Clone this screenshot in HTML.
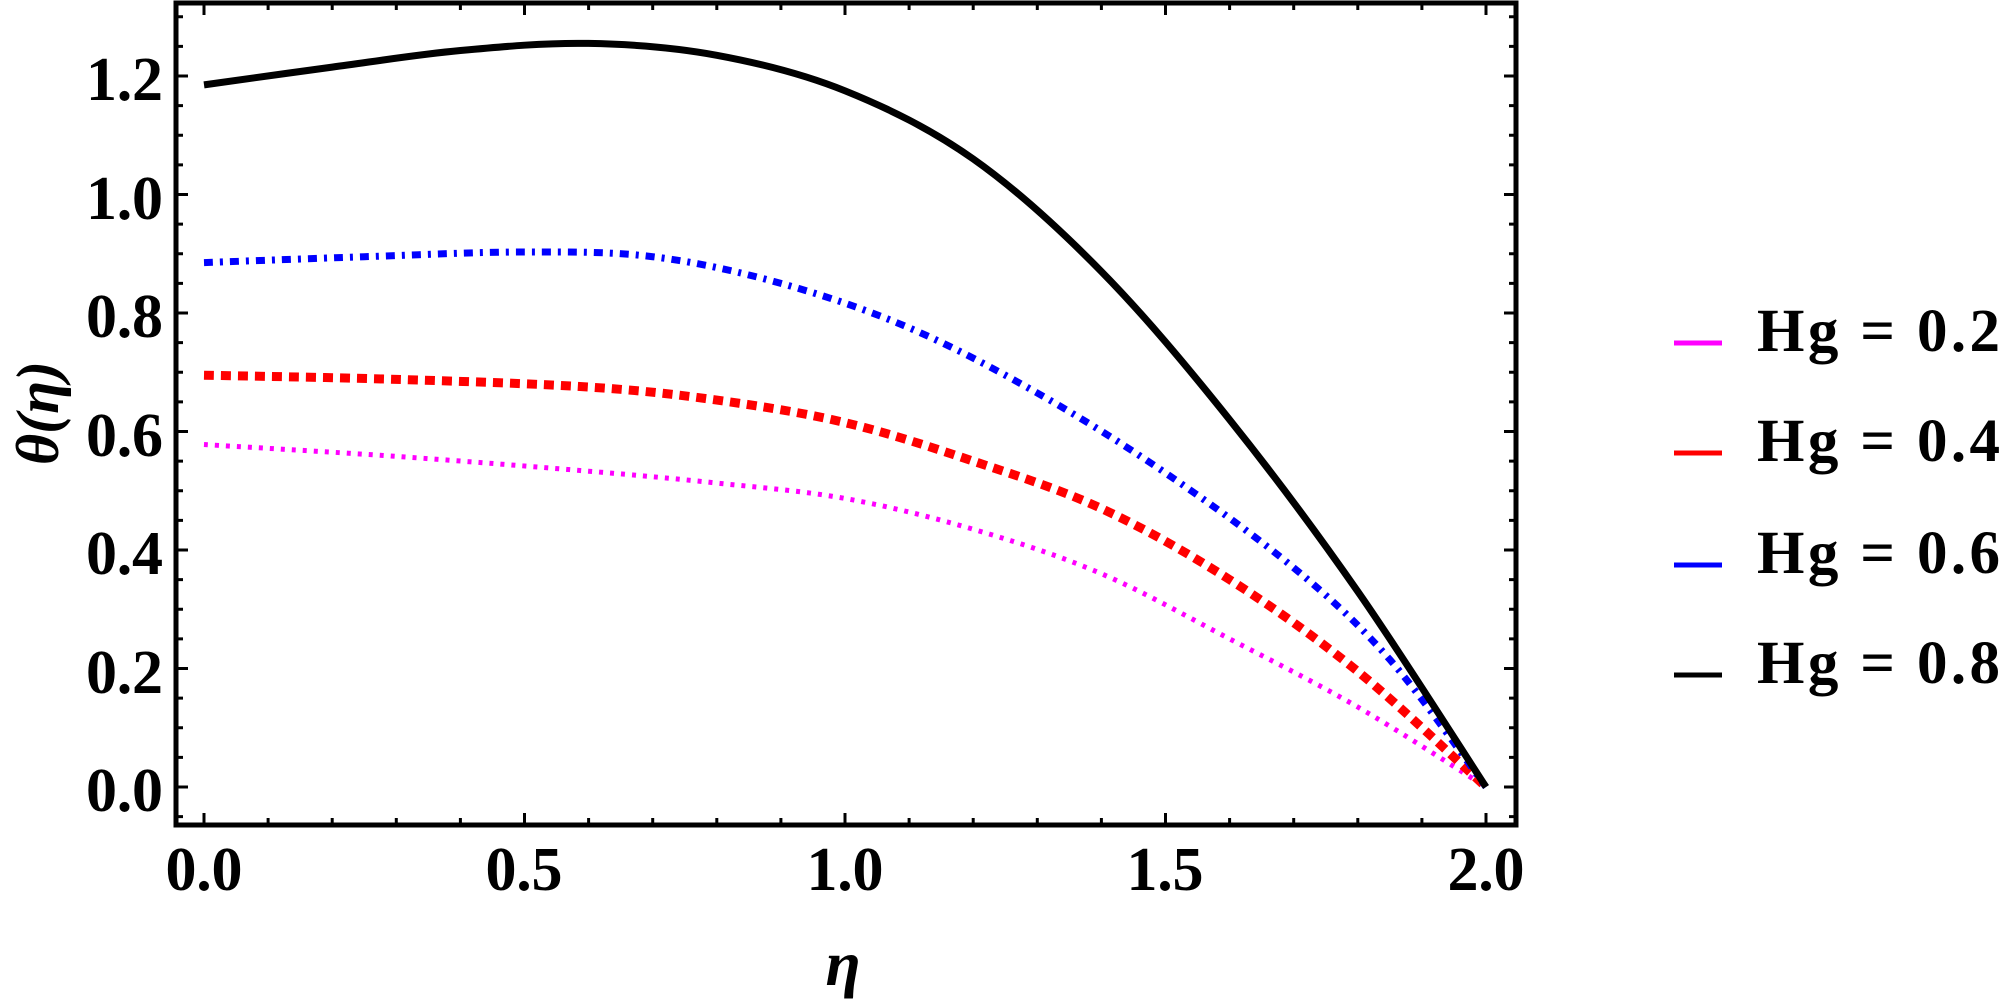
<!DOCTYPE html>
<html><head><meta charset="utf-8"><style>
html,body{margin:0;padding:0;background:#fff;}
svg{display:block;}
</style></head><body>
<svg id="s" width="2008" height="1007" viewBox="0 0 2008 1007" xmlns="http://www.w3.org/2000/svg">
<g id="curves"></g>
<rect x="176" y="3" width="1340" height="822" fill="none" stroke="#000" stroke-width="5"/>
<g id="ticks" stroke="#000" stroke-width="3"></g>
<g font-family="Liberation Serif, Times New Roman, serif" font-weight="bold" fill="#000">
<g font-size="62" text-anchor="end">
<text x="163" y="100" textLength="77">1.2</text>
<text x="163" y="219" textLength="77">1.0</text>
<text x="163" y="337" textLength="77">0.8</text>
<text x="163" y="456" textLength="77">0.6</text>
<text x="163" y="574" textLength="77">0.4</text>
<text x="163" y="693" textLength="77">0.2</text>
<text x="163" y="811" textLength="77">0.0</text>
</g>
<g font-size="62" text-anchor="middle">
<text x="204" y="890" textLength="77">0.0</text>
<text x="524" y="890" textLength="77">0.5</text>
<text x="845" y="890" textLength="77">1.0</text>
<text x="1165" y="890" textLength="77">1.5</text>
<text x="1486" y="890" textLength="77">2.0</text>
</g>
<text x="843" y="985" font-size="64" font-style="italic" text-anchor="middle">η</text>
<text transform="translate(58,413) rotate(-90)" font-size="60" font-style="italic" text-anchor="middle">θ(η)</text>
<g font-size="61">
<text x="1757" y="351" textLength="243">Hg = 0.2</text>
<text x="1757" y="461" textLength="243">Hg = 0.4</text>
<text x="1757" y="573" textLength="243">Hg = 0.6</text>
<text x="1757" y="683" textLength="243">Hg = 0.8</text>
</g>
</g>
<g stroke-width="5">
<line x1="1674" y1="343" x2="1722" y2="343" stroke="#ff00ff"/>
<line x1="1674" y1="453" x2="1722" y2="453" stroke="#ff0000"/>
<line x1="1674" y1="565" x2="1722" y2="565" stroke="#0000ff"/>
<line x1="1674" y1="675" x2="1722" y2="675" stroke="#000"/>
</g>
</svg>
<script>
var X=function(e){return 204+641*e}, Y=function(v){return 787-592.5*v};
var ns="http://www.w3.org/2000/svg";
function path(pts){
  var p=pts.map(function(a){return [X(a[0]),Y(a[1])]});
  var d="M"+p[0][0]+","+p[0][1];
  for(var i=0;i<p.length-1;i++){
    var p0=p[i-1]||p[i],p1=p[i],p2=p[i+1],p3=p[i+2]||p2;
    d+=" C"+(p1[0]+(p2[0]-p0[0])/6)+","+(p1[1]+(p2[1]-p0[1])/6)+" "+(p2[0]-(p3[0]-p1[0])/6)+","+(p2[1]-(p3[1]-p1[1])/6)+" "+p2[0]+","+p2[1];
  }
  return d;
}
var series=[
 {c:"#ff00ff",w:5,da:"4 7",pts:[[0,0.578],[0.3,0.558],[0.6,0.533],[0.8,0.513],[1.0,0.487],[1.2,0.435],[1.4,0.36],[1.6,0.25],[1.8,0.135],[2,0]]},
 {c:"#ff0000",w:9,da:"10 7",pts:[[0,0.695],[0.3,0.688],[0.6,0.675],[0.8,0.653],[1.0,0.615],[1.2,0.55],[1.4,0.47],[1.6,0.35],[1.8,0.195],[2,0]]},
 {c:"#0000ff",w:7,da:"9 7 3 7",pts:[[0,0.885],[0.25,0.895],[0.5,0.903],[0.7,0.895],[0.9,0.85],[1.1,0.775],[1.3,0.665],[1.5,0.53],[1.7,0.37],[1.85,0.215],[2,0]]},
 {c:"#000",w:7,da:"",pts:[[0,1.185],[0.2,1.215],[0.4,1.243],[0.6,1.255],[0.8,1.235],[1.0,1.175],[1.2,1.06],[1.4,0.87],[1.6,0.62],[1.8,0.33],[2,0]]}
];
var g=document.getElementById("curves");
series.forEach(function(s){
  var e=document.createElementNS(ns,"path");
  e.setAttribute("d",path(s.pts));e.setAttribute("fill","none");
  e.setAttribute("stroke",s.c);e.setAttribute("stroke-width",s.w);
  if(s.da)e.setAttribute("stroke-dasharray",s.da);
  g.appendChild(e);
});
var t=document.getElementById("ticks");
function ln(x1,y1,x2,y2){var e=document.createElementNS(ns,"line");e.setAttribute("x1",x1);e.setAttribute("y1",y1);e.setAttribute("x2",x2);e.setAttribute("y2",y2);t.appendChild(e);}
for(var i=0;i<=20;i++){var x=X(i/10),L=(i%5==0)?12:7;ln(x,825,x,825-L);ln(x,3,x,3+L);}
for(var j=-1;j<=26;j++){var v=j*0.05,y=Y(v);if(y<5||y>823)continue;var L=(j%4==0)?12:7;ln(176,y,176+L,y);ln(1516,y,1516-L,y);}
</script>
</body></html>
